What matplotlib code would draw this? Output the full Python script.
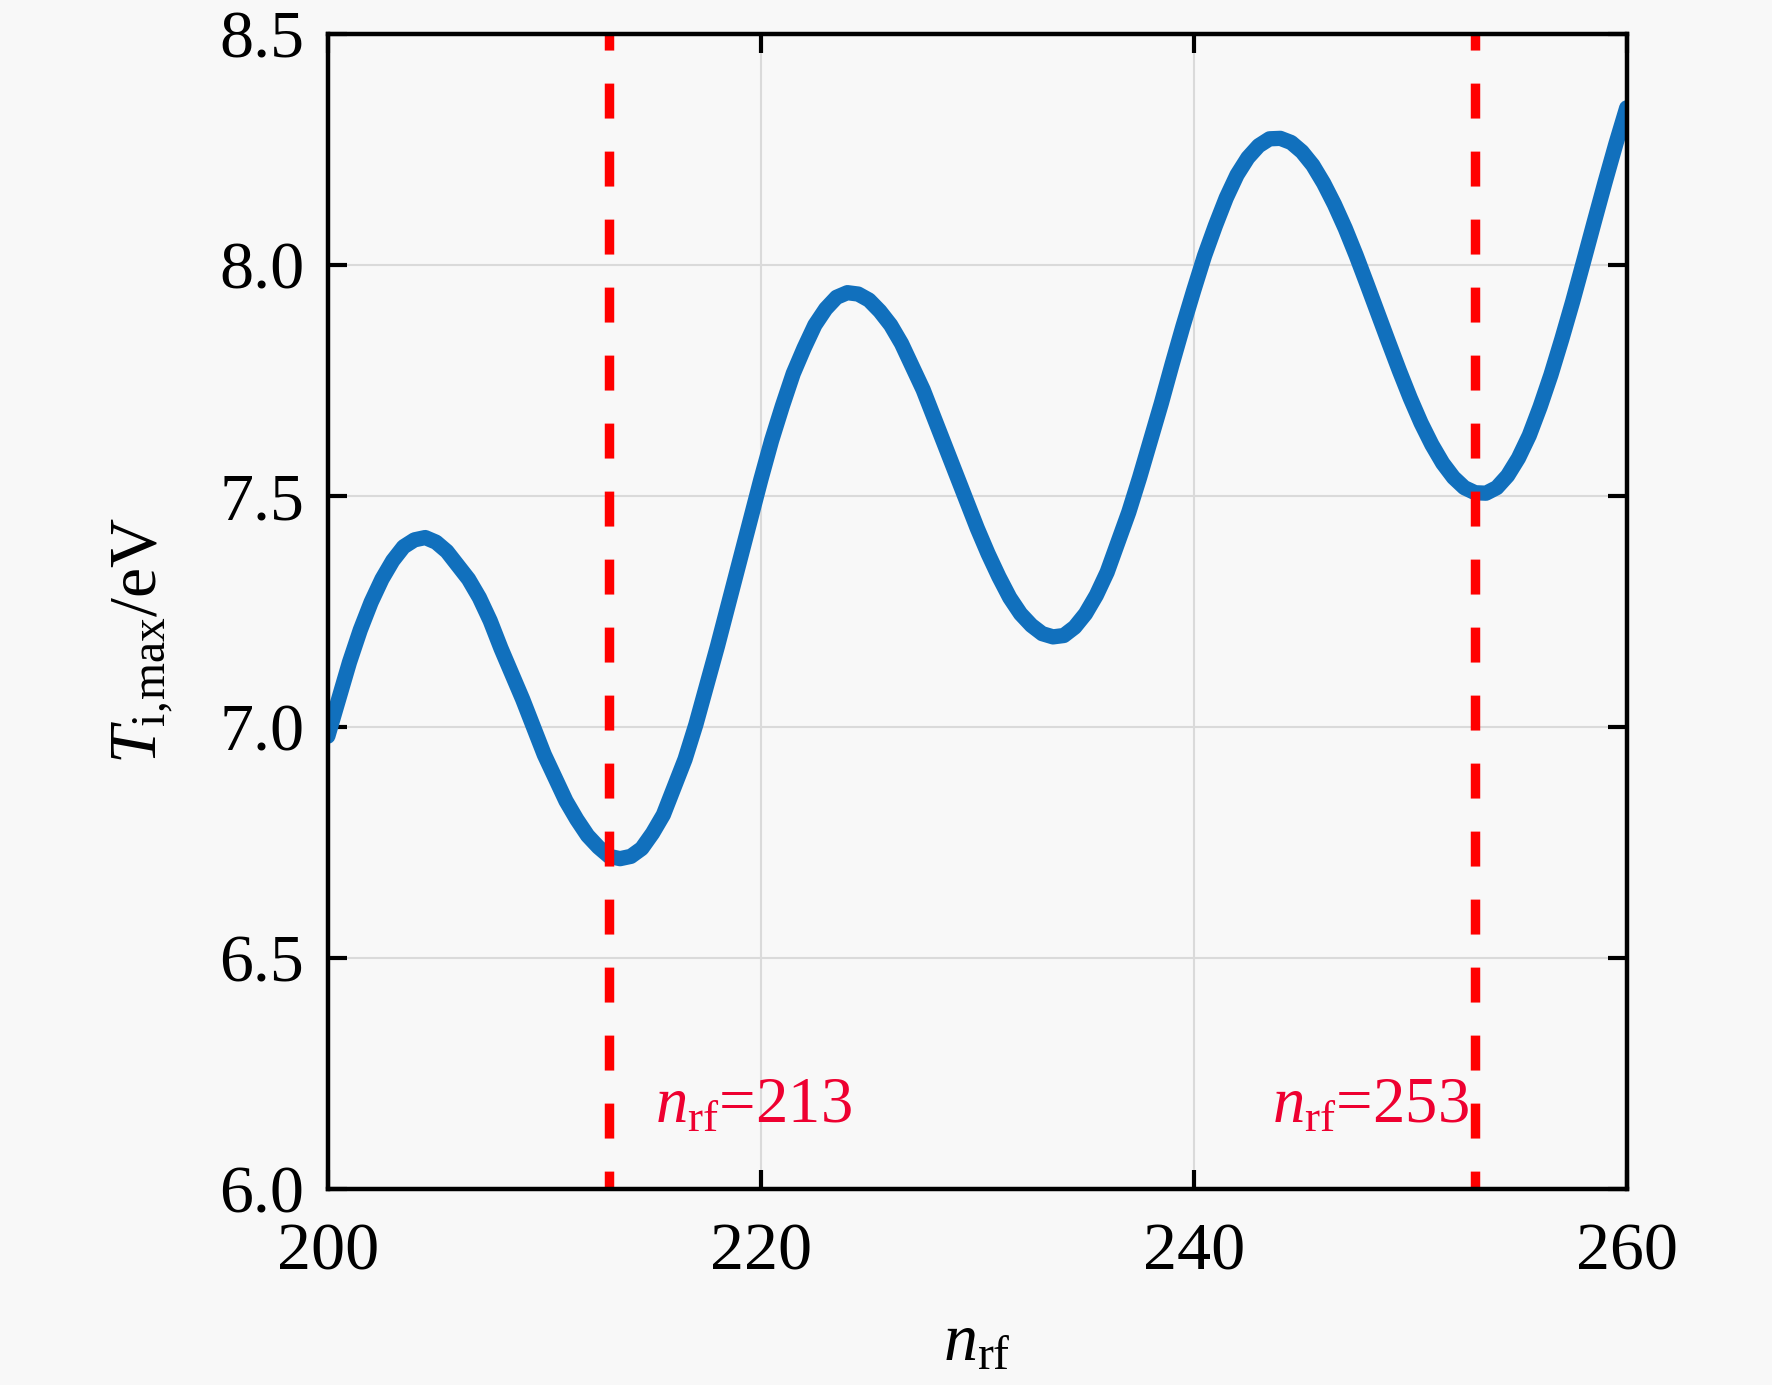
import numpy as np
import matplotlib
matplotlib.use('Agg')
import matplotlib.pyplot as plt

# values, every 0.5 in n_rf
n_rf = np.arange(200, 260.5, 0.5)
t_max = [6.98, 7.06, 7.14, 7.21, 7.27, 7.32, 7.36, 7.39, 7.405, 7.41,
         7.40, 7.38, 7.35, 7.32, 7.28, 7.23, 7.17, 7.115, 7.06, 7.00,
         6.94, 6.89, 6.84, 6.80, 6.765, 6.74, 6.72, 6.715, 6.72, 6.737,
         6.77, 6.81, 6.87, 6.93, 7.005, 7.09, 7.175, 7.265, 7.355, 7.445,
         7.535, 7.62, 7.695, 7.765, 7.82, 7.87, 7.905, 7.93, 7.94, 7.937,
         7.924, 7.90, 7.87, 7.83, 7.78, 7.73, 7.67, 7.61, 7.55, 7.49,
         7.43, 7.375, 7.325, 7.28, 7.245, 7.22, 7.202, 7.195, 7.198, 7.216,
         7.245, 7.285, 7.335, 7.40, 7.465, 7.54, 7.62, 7.70, 7.785, 7.867,
         7.945, 8.02, 8.085, 8.145, 8.195, 8.232, 8.258, 8.273, 8.274, 8.265,
         8.245, 8.216, 8.177, 8.131, 8.079, 8.021, 7.959, 7.896, 7.833, 7.771,
         7.712, 7.658, 7.611, 7.571, 7.54, 7.518, 7.507, 7.506, 7.518, 7.544,
         7.582, 7.631, 7.693, 7.762, 7.839, 7.92, 8.006, 8.093, 8.179, 8.262,
         8.34]
marks = [213, 253]
mark_text = [r'$n_{\mathrm{rf}}$=213', r'$n_{\mathrm{rf}}$=253']
mark_text_x = [215.1, 243.6]
mark_text_y = 6.145
xticks = [200, 220, 240, 260]
yticks = [6.0, 6.5, 7.0, 7.5, 8.0, 8.5]

plt.rcParams['font.family'] = ['Liberation Serif', 'DejaVu Serif']
plt.rcParams['mathtext.fontset'] = 'custom'
plt.rcParams['mathtext.rm'] = 'Liberation Serif'
plt.rcParams['mathtext.it'] = 'Liberation Serif:italic'

bg = '#f8f8f8'
fig = plt.figure(figsize=(17.72, 13.85), dpi=100, facecolor=bg)
ax = fig.add_axes([0.185, 0.1415, 0.733, 0.834], facecolor=bg)

ax.grid(True, color='#dadada', linewidth=1.5)
ax.set_axisbelow(True)

ax.plot(n_rf, t_max, color='#1170bd', linewidth=11, solid_capstyle='round',
        solid_joinstyle='round', zorder=3)

# dashes drawn from the top down, like the reference
for xm in marks:
    ax.axvline(xm, ymin=1, ymax=0, color='#ff0000', linewidth=6.8,
               linestyle=(2.0, (3.7, 3.5)), zorder=4)

for txt, xt in zip(mark_text, mark_text_x):
    ax.text(xt, mark_text_y, txt, color='#ee0030', fontsize=46.5, zorder=5)

ax.set_xlim(200, 260)
ax.set_ylim(6.0, 8.5)
ax.set_xticks(xticks)
ax.set_yticks(yticks)
ax.set_yticklabels(['%.1f' % v for v in yticks])

ax.tick_params(direction='in', top=True, right=True, length=14, width=3,
               labelsize=49, color='black')
ax.tick_params(axis='x', pad=24)
ax.tick_params(axis='y', pad=17)
for sp in ax.spines.values():
    sp.set_linewidth(3.2)
    sp.set_zorder(6)

ax.set_xlabel(r'$n_{\mathrm{rf}}$', fontsize=49, labelpad=22)
ax.set_ylabel(r'$T_{\mathrm{i,\!max}}$/eV', fontsize=49)
ax.yaxis.set_label_coords(-0.118, 0.475)

fig.savefig('out.png', dpi=100, facecolor=bg)
